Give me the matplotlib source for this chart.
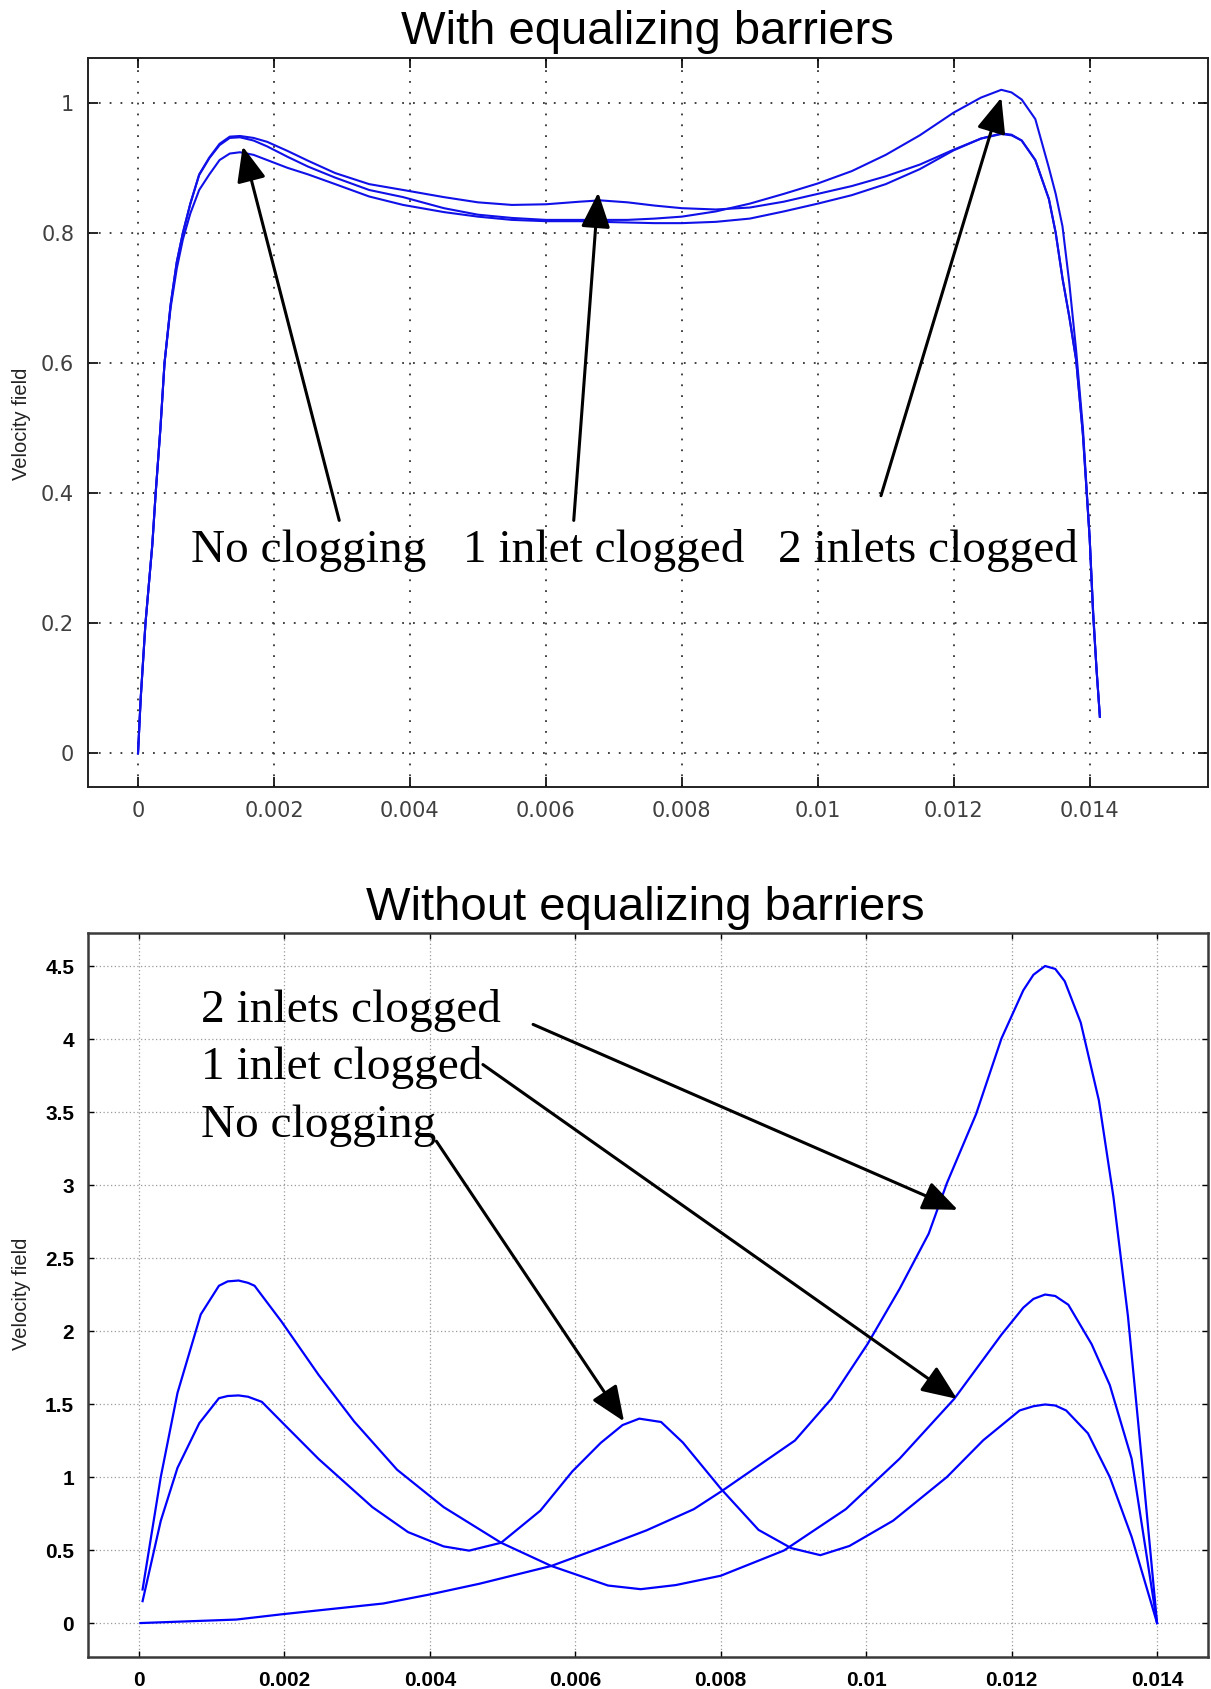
import matplotlib
matplotlib.use("Agg")
import matplotlib.pyplot as plt

# ---- top panel: with equalizing barriers (shared x samples) ----
top_x = [0, 0.00004, 0.00011, 0.00021, 0.00026, 0.00033, 0.00039, 0.00048, 0.00057,
         0.00066, 0.00077, 0.0009, 0.00105, 0.0012, 0.00135, 0.0015, 0.0017, 0.0019,
         0.0022, 0.0025, 0.0029, 0.0034, 0.0039, 0.0045, 0.005, 0.0055, 0.006, 0.0065,
         0.0068, 0.0072, 0.0076, 0.008, 0.0085, 0.009, 0.0095, 0.01, 0.0105, 0.011,
         0.0115, 0.012, 0.0124, 0.0127, 0.01285, 0.013, 0.0132, 0.0134, 0.0135, 0.0136,
         0.0137, 0.0138, 0.0139, 0.014, 0.01405, 0.0141, 0.01415]
top_one = [0, 0.085, 0.2, 0.32, 0.40, 0.50, 0.60, 0.69, 0.755,
           0.80, 0.845, 0.89, 0.916, 0.937, 0.948, 0.949, 0.946, 0.940,
           0.926, 0.911, 0.892, 0.875, 0.866, 0.855, 0.847, 0.843, 0.844, 0.848,
           0.850, 0.847, 0.842, 0.838, 0.836, 0.839, 0.848, 0.860, 0.872, 0.887,
           0.905, 0.928, 0.945, 0.953, 0.951, 0.942, 0.912, 0.852, 0.80, 0.73,
           0.671, 0.605, 0.49, 0.33, 0.215, 0.13, 0.056]
top_two = [0, 0.085, 0.2, 0.32, 0.40, 0.50, 0.60, 0.69, 0.755,
           0.80, 0.845, 0.889, 0.915, 0.935, 0.946, 0.947, 0.942, 0.933,
           0.917, 0.902, 0.885, 0.866, 0.855, 0.838, 0.828, 0.823, 0.820, 0.820,
           0.820, 0.820, 0.822, 0.825, 0.833, 0.845, 0.860, 0.876, 0.895, 0.920,
           0.950, 0.985, 1.008, 1.020, 1.016, 1.005, 0.975, 0.90, 0.86, 0.81,
           0.723, 0.62, 0.50, 0.33, 0.22, 0.13, 0.056]
top_none = [0, 0.085, 0.2, 0.32, 0.40, 0.50, 0.60, 0.685, 0.745,
            0.79, 0.83, 0.866, 0.89, 0.912, 0.922, 0.924, 0.920, 0.912,
            0.900, 0.890, 0.875, 0.856, 0.843, 0.832, 0.825, 0.820, 0.818, 0.818,
            0.817, 0.816, 0.815, 0.815, 0.817, 0.822, 0.833, 0.845, 0.858, 0.875,
            0.898, 0.927, 0.945, 0.952, 0.950, 0.942, 0.912, 0.852, 0.80, 0.73,
            0.671, 0.605, 0.49, 0.33, 0.215, 0.13, 0.056]

# ---- bottom panel: without equalizing barriers ----
bot_none_x = [0.00005, 0.0003, 0.00053, 0.00083, 0.0011, 0.00122, 0.00137, 0.0015,
              0.00169, 0.00198, 0.00247, 0.00321, 0.0037, 0.00419, 0.00454, 0.00498,
              0.00552, 0.00596, 0.00635, 0.00665, 0.00688, 0.00718, 0.00748, 0.008,
              0.00852, 0.00897, 0.00937, 0.00977, 0.01037, 0.01111, 0.01161, 0.01211,
              0.0123, 0.01246, 0.0126, 0.01275, 0.01305, 0.01335, 0.01365, 0.014]
bot_none_y = [0.15, 0.70, 1.063, 1.369, 1.54, 1.555, 1.559, 1.55,
              1.515, 1.369, 1.124, 0.794, 0.623, 0.525, 0.496, 0.55,
              0.77, 1.039, 1.234, 1.356, 1.40, 1.377, 1.236, 0.921,
              0.638, 0.513, 0.465, 0.528, 0.701, 1.0, 1.252, 1.456,
              1.485, 1.497, 1.49, 1.456, 1.299, 1.0, 0.591, 0.0]

bot_one_x = [0.00005, 0.0003, 0.00053, 0.00085, 0.0011, 0.00122, 0.00137, 0.0015,
             0.00159, 0.00196, 0.00247, 0.00296, 0.00355, 0.00419, 0.00498, 0.00567,
             0.00645, 0.0069, 0.00738, 0.008, 0.00887, 0.00972, 0.01046, 0.01121,
             0.01186, 0.01216, 0.0123, 0.01246, 0.0126, 0.01278, 0.0131, 0.01335,
             0.01365, 0.014]
bot_one_y = [0.23, 1.0, 1.576, 2.114, 2.31, 2.34, 2.346, 2.33,
             2.31, 2.065, 1.70, 1.38, 1.05, 0.794, 0.55, 0.391,
             0.257, 0.232, 0.26, 0.324, 0.497, 0.78, 1.126, 1.535,
             1.975, 2.16, 2.22, 2.25, 2.24, 2.18, 1.91, 1.63,
             1.126, 0.0]

bot_two_x = [0.00002, 0.00134, 0.00198, 0.00336, 0.004, 0.00468, 0.00567, 0.0064,
             0.00698, 0.00763, 0.00802, 0.00902, 0.00952, 0.01002, 0.01046, 0.01086,
             0.01111, 0.01151, 0.01186, 0.01216, 0.0123, 0.01246, 0.0126, 0.01273,
             0.01295, 0.0132, 0.0134, 0.0136, 0.0138, 0.014]
bot_two_y = [0.0, 0.024, 0.061, 0.134, 0.196, 0.269, 0.391, 0.525,
             0.635, 0.78, 0.906, 1.25, 1.535, 1.912, 2.289, 2.667,
             3.013, 3.484, 4.003, 4.333, 4.44, 4.5, 4.48, 4.396,
             4.113, 3.579, 2.918, 2.1, 1.063, 0.0]

x_ticks = [0, 0.002, 0.004, 0.006, 0.008, 0.01, 0.012, 0.014]
x_labels = ["0", "0.002", "0.004", "0.006", "0.008", "0.01", "0.012", "0.014"]
top_yticks = [0, 0.2, 0.4, 0.6, 0.8, 1]
top_ylabels = ["0", "0.2", "0.4", "0.6", "0.8", "1"]
bot_yticks = [0, 0.5, 1, 1.5, 2, 2.5, 3, 3.5, 4, 4.5]
bot_ylabels = ["0", "0.5", "1", "1.5", "2", "2.5", "3", "3.5", "4", "4.5"]

# annotations: label, text position, arrow tail, arrow head
top_notes = [
    ("No clogging", (0.00078, 0.294), (0.00296, 0.358), (0.00154, 0.933)),
    ("1 inlet clogged", (0.00478, 0.294), (0.00641, 0.358), (0.00677, 0.862)),
    ("2 inlets clogged", (0.00941, 0.294), (0.01093, 0.396), (0.0127, 1.008)),
]
bot_notes = [
    ("2 inlets clogged", (0.00086, 4.118), (0.00542, 4.10), (0.01126, 2.83)),
    ("1 inlet clogged", (0.00086, 3.726), (0.00473, 3.825), (0.01125, 1.535)),
    ("No clogging", (0.00086, 3.331), (0.00409, 3.30), (0.00667, 1.381)),
]

SERIF = "Liberation Serif"
SANS = "Liberation Sans"
ARROW = dict(arrowstyle="-|>,head_length=0.6,head_width=0.25", mutation_scale=36,
             color="black", lw=2.2, shrinkA=0, shrinkB=0)


def main():
    fig = plt.figure(figsize=(12.11, 16.89), dpi=100)

    # ---------- top ----------
    ax = fig.add_axes([0.0727, 0.534, 0.9248, 0.4317])
    for ys in (top_one, top_two, top_none):
        ax.plot(top_x, ys, color="#1010e8", lw=1.5)
    ax.set_xlim(-0.000735, 0.01574)
    ax.set_ylim(-0.052, 1.069)
    ax.set_xticks(x_ticks)
    ax.set_xticklabels(x_labels)
    ax.set_yticks(top_yticks)
    ax.set_yticklabels(top_ylabels)
    ax.grid(True, color="#333333", linestyle=(0, (1, 5)), lw=1.3)
    ax.tick_params(direction="in", length=7, width=1.2, top=True, right=True,
                   labelsize=15, labelcolor="#404040", pad=10)
    for lab in ax.get_xticklabels() + ax.get_yticklabels():
        lab.set_fontfamily("DejaVu Sans")
    for sp in ax.spines.values():
        sp.set_linewidth(1.4)
        sp.set_color("#222222")
    for label, txt, tail, head in top_notes:
        ax.text(txt[0], txt[1], label, fontsize=34, family=SERIF, ha="left",
                va="baseline")
        ax.annotate("", xy=head, xytext=tail, arrowprops=ARROW)
    fig.text(0.535, 0.981, "With equalizing barriers", fontsize=34, family=SANS,
             ha="center", va="center")
    fig.text(0.018, 0.749, "Velocity field", fontsize=14.5, family=SANS,
             rotation=90, ha="center", va="center", color="#222222")

    # ---------- bottom ----------
    ax2 = fig.add_axes([0.0727, 0.0189, 0.9248, 0.4287])
    ax2.plot(bot_none_x, bot_none_y, color="blue", lw=1.6)
    ax2.plot(bot_one_x, bot_one_y, color="blue", lw=1.6)
    ax2.plot(bot_two_x, bot_two_y, color="blue", lw=1.6)
    ax2.set_xlim(-0.0007, 0.0147)
    ax2.set_ylim(-0.233, 4.726)
    ax2.set_xticks(x_ticks)
    ax2.set_xticklabels(x_labels)
    ax2.set_yticks(bot_yticks)
    ax2.set_yticklabels(bot_ylabels)
    ax2.grid(True, color="#9a9a9a", linestyle=(0, (1, 2)), lw=0.9)
    ax2.tick_params(direction="in", length=4, width=1.0, top=True, right=True,
                    labelsize=15, labelcolor="black", pad=10)
    for lab in ax2.get_xticklabels() + ax2.get_yticklabels():
        lab.set_fontfamily(SANS)
        lab.set_fontweight("bold")
    for sp in ax2.spines.values():
        sp.set_linewidth(1.8)
        sp.set_color("#3a3a3a")
    for label, txt, tail, head in bot_notes:
        ax2.text(txt[0], txt[1], label, fontsize=34, family=SERIF, ha="left",
                 va="baseline")
        ax2.annotate("", xy=head, xytext=tail, arrowprops=ARROW)
    fig.text(0.533, 0.4624, "Without equalizing barriers", fontsize=34, family=SANS,
             ha="center", va="center")
    fig.text(0.018, 0.234, "Velocity field", fontsize=14.5, family=SANS,
             rotation=90, ha="center", va="center", color="#222222")

    fig.savefig("out.png", dpi=100)
    plt.close(fig)


if __name__ == "__main__":
    main()
